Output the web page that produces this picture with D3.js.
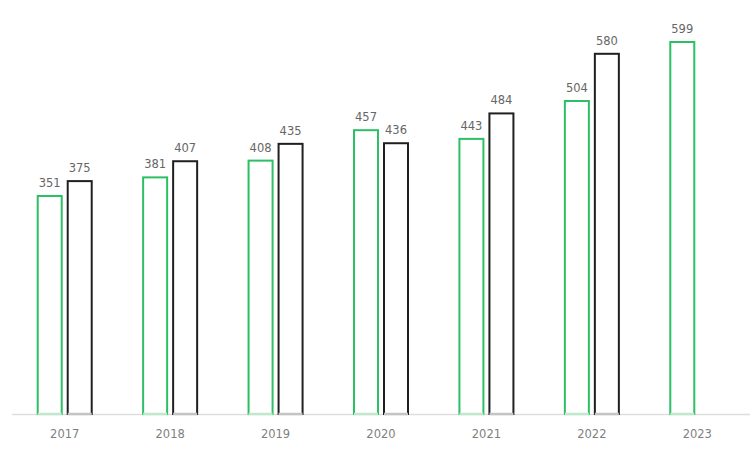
<!DOCTYPE html>
<html>
<head>
<meta charset="utf-8">
<script src="https://cdn.jsdelivr.net/npm/d3@7"></script>
<style>
  html, body { margin: 0; padding: 0; background: #fff; }
  svg { display: block; }
</style>
</head>
<body>
<div id="chart"></div>
<script>
// years on the x axis, two series per year (2023 has only the green one)
var years = ["2017", "2018", "2019", "2020", "2021", "2022", "2023"];
var greenValues = [351, 381, 408, 457, 443, 504, 599];
var blackValues = [375, 407, 435, 436, 484, 580, null];

var width = 753, height = 472;
var baseY = 414;

var svg = d3.select("#chart")
    .append("svg")
    .attr("width", width)
    .attr("height", height);

var x = d3.scaleBand()
    .domain(years)
    .range([12, 750]);

var y = d3.scaleLinear()
    .domain([0, 599])
    .range([baseY, 42]);

var barW = 24, gap = 3;

var series = [
    { values: greenValues, color: "#2dbf63", offset: -gap - barW, bottom: "#bfe8cc" },
    { values: blackValues, color: "#1f1f1f", offset: gap, bottom: "#c4c4c4" }
];

// baseline
svg.append("line")
    .attr("x1", 12).attr("x2", 750)
    .attr("y1", baseY + 0.5).attr("y2", baseY + 0.5)
    .attr("stroke", "#dedede")
    .attr("stroke-width", 1.5);

series.forEach(function(s) {
    var data = years.map(function(yr, i) { return { year: yr, v: s.values[i] }; })
        .filter(function(d) { return d.v != null; });

    var g = svg.append("g");

    g.selectAll("rect")
        .data(data)
        .enter().append("rect")
        .attr("x", function(d) { return x(d.year) + x.bandwidth() / 2 + s.offset; })
        .attr("y", function(d) { return y(d.v); })
        .attr("width", barW)
        .attr("height", function(d) { return baseY - y(d.v); })
        .style("fill", "#fff")
        .style("stroke", s.color)
        .style("stroke-width", 2);

    // lighter bottom edge where the bar meets the axis
    g.selectAll("line.bottom")
        .data(data)
        .enter().append("line")
        .attr("class", "bottom")
        .attr("x1", function(d) { return x(d.year) + x.bandwidth() / 2 + s.offset; })
        .attr("x2", function(d) { return x(d.year) + x.bandwidth() / 2 + s.offset + barW; })
        .attr("y1", baseY).attr("y2", baseY)
        .style("stroke", s.bottom)
        .style("stroke-width", 2.5);

    g.selectAll("text")
        .data(data)
        .enter().append("text")
        .attr("x", function(d) { return x(d.year) + x.bandwidth() / 2 + s.offset + barW / 2; })
        .attr("y", function(d) { return y(d.v) - 9; })
        .attr("text-anchor", "middle")
        .style("font-family", "'DejaVu Sans', sans-serif")
        .style("font-size", "11.5px")
        .style("fill", "#666")
        .text(function(d) { return d.v; });
});

// year labels
svg.append("g").selectAll("text")
    .data(years)
    .enter().append("text")
    .attr("x", function(d) { return x(d) + x.bandwidth() / 2; })
    .attr("y", 438)
    .attr("text-anchor", "middle")
    .style("font-family", "'DejaVu Sans', sans-serif")
    .style("font-size", "11.5px")
    .style("fill", "#7f7f7f")
    .text(function(d) { return d; });
</script>
</body>
</html>
